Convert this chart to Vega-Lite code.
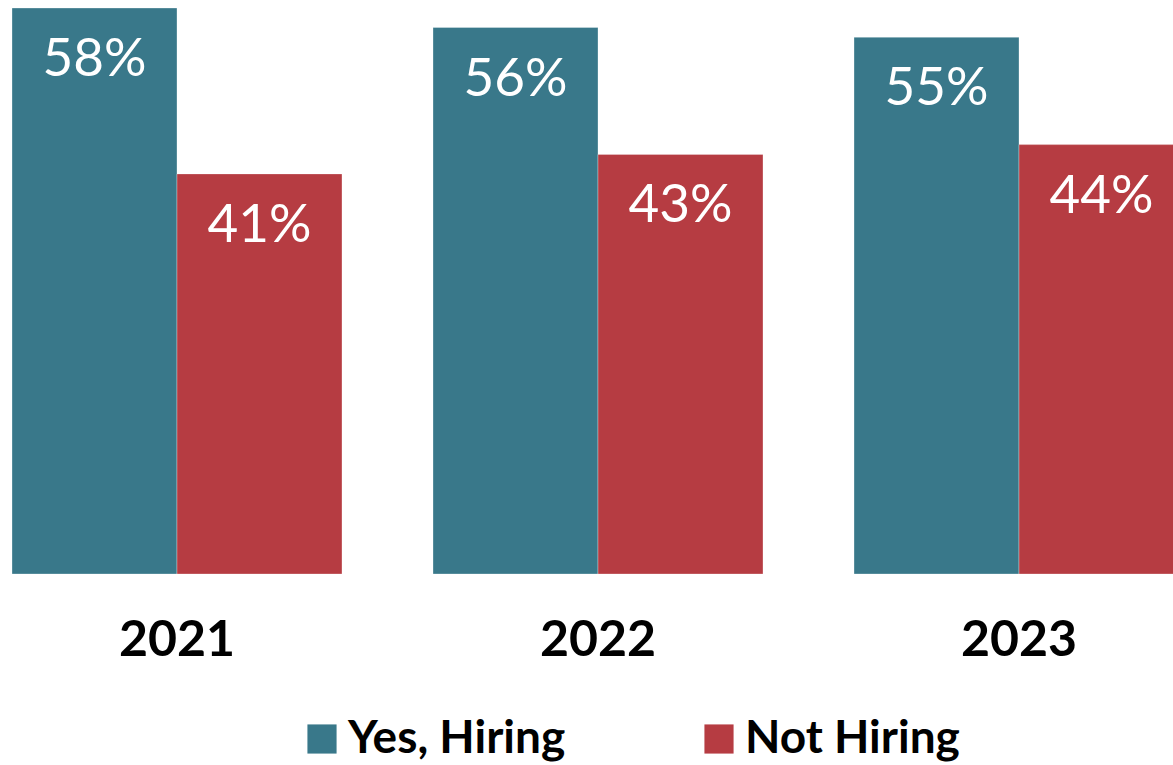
{
  "$schema": "https://vega.github.io/schema/vega-lite/v6.json",
  "autosize": "none",
  "padding": {"left": 0, "top": 0, "right": 0, "bottom": 191},
  "width": 1173,
  "height": 574,
  "background": "white",
  "config": {"view": {"stroke": null}, "font": "Lato"},
  "data": {
    "values": [
      {"year": "2021", "status": "Yes, Hiring", "pct": 0.58},
      {"year": "2021", "status": "Not Hiring", "pct": 0.41},
      {"year": "2022", "status": "Yes, Hiring", "pct": 0.56},
      {"year": "2022", "status": "Not Hiring", "pct": 0.43},
      {"year": "2023", "status": "Yes, Hiring", "pct": 0.55},
      {"year": "2023", "status": "Not Hiring", "pct": 0.44}
    ]
  },
  "encoding": {
    "x": {
      "field": "year",
      "type": "nominal",
      "scale": {"range": [12, 1184], "paddingInner": 0.2162, "paddingOuter": 0},
      "axis": {
        "title": null,
        "domain": false,
        "ticks": false,
        "tickSize": 0,
        "labelAngle": 0,
        "labelFont": "Lato",
        "labelFontSize": 50,
        "labelFontWeight": "bold",
        "labelColor": "black",
        "labelBaseline": "alphabetic",
        "labelPadding": 81
      }
    },
    "xOffset": {
      "field": "status",
      "type": "nominal",
      "sort": ["Yes, Hiring", "Not Hiring"],
      "scale": {"paddingInner": 0, "paddingOuter": 0}
    },
    "y": {
      "field": "pct",
      "type": "quantitative",
      "scale": {"domain": [0, 0.5882], "nice": false, "zero": true},
      "axis": null
    }
  },
  "layer": [
    {
      "mark": {"type": "bar", "clip": true, "stroke": "white", "strokeWidth": 1, "strokeOpacity": 0.3},
      "encoding": {
        "color": {
          "field": "status",
          "type": "nominal",
          "scale": {"domain": ["Yes, Hiring", "Not Hiring"], "range": ["#39788A", "#B63C42"]},
          "legend": {
            "title": null,
            "orient": "none",
            "direction": "horizontal",
            "legendX": 299,
            "legendY": 716,
            "padding": 0,
            "symbolType": "square",
            "symbolSize": 850,
            "symbolStrokeWidth": 0,
            "symbolOpacity": 1,
            "labelFont": "Lato",
            "labelFontSize": 46,
            "labelFontWeight": "bold",
            "labelColor": "black",
            "labelOffset": 3,
            "labelLimit": 400,
            "columnPadding": 130
          }
        }
      }
    },
    {
      "mark": {"type": "text", "color": "white", "fontSize": 53, "font": "Lato", "baseline": "alphabetic", "dy": 68, "align": "center"},
      "encoding": {
        "text": {"field": "pct", "type": "quantitative", "format": ".0%"},
        "detail": {"field": "status"}
      }
    }
  ]
}
